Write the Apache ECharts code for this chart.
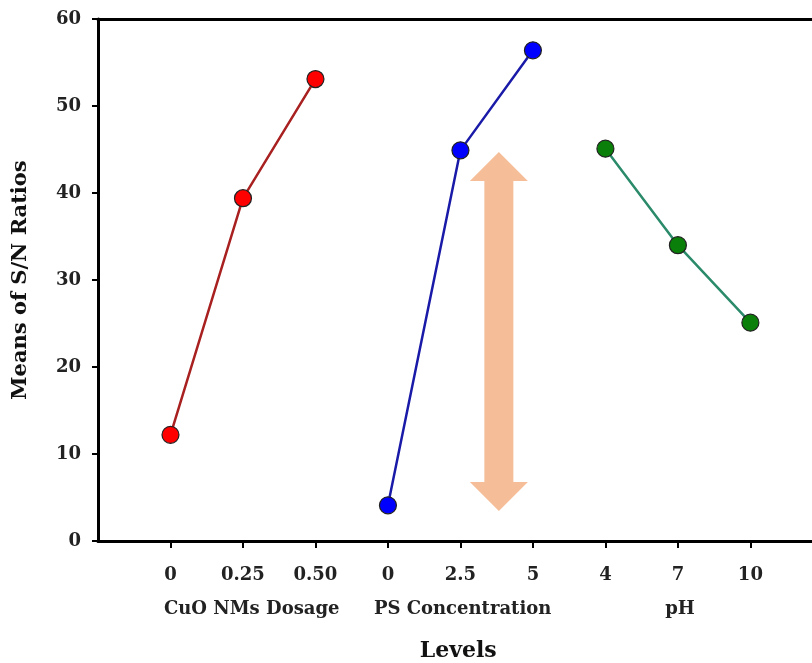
<!DOCTYPE html>
<html><head><meta charset="utf-8">
<script src="https://cdn.jsdelivr.net/npm/echarts@6/dist/echarts.min.js"></script>
<style>html,body{margin:0;padding:0;background:#fff}#c{width:812px;height:663px}</style>
</head><body><div id="c"></div>
<script>
const tickLabels = ['0','0.25','0.50','0','2.5','5','4','7','10'];
const tickPositions = [0,1,2,3,4,5,6,7,8];
const groupNames = ['CuO NMs Dosage','PS Concentration','pH'];
const groupCenters = [1.12, 4.03, 7.03];
const cuoValues = [12.2, 39.4, 53.1];
const psValues = [4.1, 44.9, 56.4];
const phValues = [45.1, 34.0, 25.1];
const arrowRange = {x: 4.53, y1: 3.45, y2: 44.7};

const FONT = 'DejaVu Serif';
function pts(vals, offset){ return vals.map((v,i)=>[offset+i, v]); }

const chart = echarts.init(document.getElementById('c'));
const mk = (name, data, line, fill) => ({
  name, type:'line', data, symbol:'circle', symbolSize:17,
  lineStyle:{color:line, width:2.5},
  itemStyle:{color:fill, borderColor:'#222', borderWidth:1.2},
  z:5
});
chart.setOption({
  animation:false,
  grid:{left:98, right:0, top:19, bottom:122},
  xAxis:[{
    type:'value', min:-1, max:8.85,
    axisLine:{onZero:false, lineStyle:{color:'#000', width:3}},
    axisTick:{show:true, length:7, customValues:tickPositions, lineStyle:{color:'#000', width:2}},
    splitLine:{show:false},
    axisLabel:{margin:25, fontFamily:FONT, fontWeight:'bold', fontSize:18, color:'#222',
      customValues:tickPositions,
      formatter:v=>{ const i=Math.round(v); return (i>=0&&i<tickLabels.length)?tickLabels[i]:''; }}
  },{
    type:'value', position:'top', min:-1, max:8.85,
    axisLine:{show:true, onZero:false, lineStyle:{color:'#000', width:3}},
    axisTick:{show:false}, axisLabel:{show:false}, splitLine:{show:false}
  }],
  yAxis:{
    type:'value', min:0, max:60, interval:10,
    name:'Means of S/N Ratios', nameLocation:'middle', nameGap:67, nameRotate:90,
    nameTextStyle:{fontFamily:FONT, fontWeight:'bold', fontSize:21, color:'#111'},
    axisLine:{show:true, onZero:false, lineStyle:{color:'#000', width:3}},
    axisTick:{show:true, length:6, lineStyle:{color:'#000', width:2}},
    splitLine:{show:false},
    axisLabel:{margin:17, fontFamily:FONT, fontWeight:'bold', fontSize:18, color:'#222'}
  },
  series:[
    mk('CuO', pts(cuoValues,0), '#a82020', '#ff0000'),
    mk('PS', pts(psValues,3), '#1a1aa8', '#0000ff'),
    mk('pH', pts(phValues,6), '#2a8a6a', '#0a800a')
  ]
});

function px(x,y){ return chart.convertToPixel({xAxisIndex:0,yAxisIndex:0},[x,y]); }
const gfx = [];
const pTop = px(arrowRange.x, arrowRange.y2), pBot = px(arrowRange.x, arrowRange.y1);
const cx = pTop[0], sw = 14.5, hw = 29, hh = 29;
gfx.push({type:'polygon', z:1, shape:{points:[
  [cx, pTop[1]], [cx+hw, pTop[1]+hh], [cx+sw, pTop[1]+hh], [cx+sw, pBot[1]-hh], [cx+hw, pBot[1]-hh],
  [cx, pBot[1]], [cx-hw, pBot[1]-hh], [cx-sw, pBot[1]-hh], [cx-sw, pTop[1]+hh], [cx-hw, pTop[1]+hh]
]}, style:{fill:'#f5be98'}});
groupNames.forEach((g,i)=>{
  const p = px(groupCenters[i], 0);
  gfx.push({type:'text', x:p[0], y:p[1]+68, style:{text:g, align:'center', verticalAlign:'middle',
    font:'bold 18px "DejaVu Serif"', fill:'#222'}});
});
const lv = px(3.97, 0);
gfx.push({type:'text', x:lv[0], y:lv[1]+110, style:{text:'Levels', align:'center', verticalAlign:'middle',
  font:'bold 22px "DejaVu Serif"', fill:'#111'}});
chart.setOption({graphic:gfx});
</script></body></html>
